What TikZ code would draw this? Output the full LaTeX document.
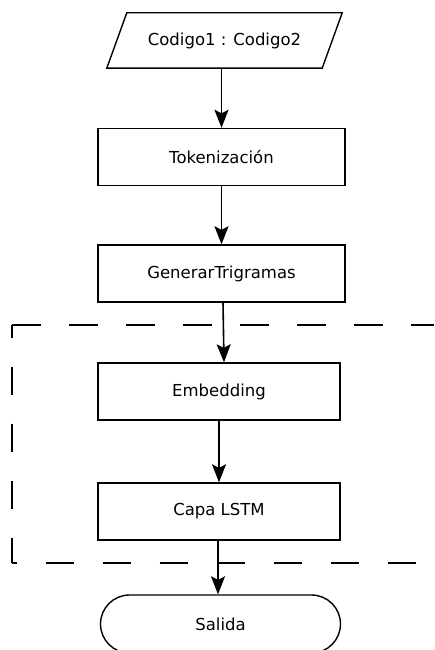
\documentclass[tikz,border=0pt]{standalone}
\usepackage{fontspec}
\setmainfont{DejaVu Sans}
\usetikzlibrary{arrows.meta,calc}
\begin{document}
\begin{tikzpicture}[x=1pt,y=-1pt,
  every node/.style={font=\fontsize{16.5}{19}\selectfont},
  procbox/.style={draw,line width=1.4pt,rectangle,minimum height=57,inner sep=0pt},
  conn/.style={line width=1.6pt,-{Stealth[width=14pt,length=18pt,inset=3.5pt]}},
  grp/.style={line width=1.5pt,dash pattern=on 28.5pt off 28.5pt}]
\useasboundingbox (0,0) rectangle (434,650);
\fill[white] (0,0) rectangle (434,650);
\clip (0,0) rectangle (434,650);
% input parallelogram
\node (in) [minimum width=215,minimum height=55,inner sep=0pt] at (224.5,40.5) {Codigo1 : Codigo2};
\draw[line width=1.4pt,line join=miter] ([xshift=-10pt]in.south west) -- ([xshift=-10pt]in.south east)
  -- ([xshift=10pt]in.north east) -- ([xshift=10pt]in.north west) -- cycle;
% process boxes
\node (tok) [procbox,minimum width=247] at (221.5,157) {Tokenización};
\node (gen) [procbox,minimum width=247] at (221.5,273.5) {GenerarTrigramas};
\node (emb) [procbox,minimum width=242] at (219,391.5) {Embedding};
\node (lstm) [procbox,minimum width=242] at (219,511.5) {Capa LSTM};
\node (out) [procbox,minimum width=240,minimum height=58,rounded corners=29pt] at (220.5,624) {Salida};
% dashed group
\coordinate (gtl) at (12,325);
\coordinate (gtr) at (434,325);
\coordinate (gbl) at (12,563);
\coordinate (gbr) at (434,563);
\draw[grp] (gtl) -- (gtr);
\draw[grp,dash phase=15.5pt] (gtl) -- (gbl);
\draw[grp,dash phase=23.5pt] (gbl) -- (gbr);
% connectors
\draw[conn] (in.south -| tok.north) -- (tok.north);
\draw[conn] (tok.south) -- (gen.north);
\draw[conn] ($(gen.south)+(1.5,0)$) -- ($(emb.north)+(5,0)$);
\draw[conn] (emb.south) -- (lstm.north);
\draw[conn] ($(lstm.south)+(-1,0)$) -- ($(out.north)+(-2.5,0)$);
\end{tikzpicture}
\end{document}
